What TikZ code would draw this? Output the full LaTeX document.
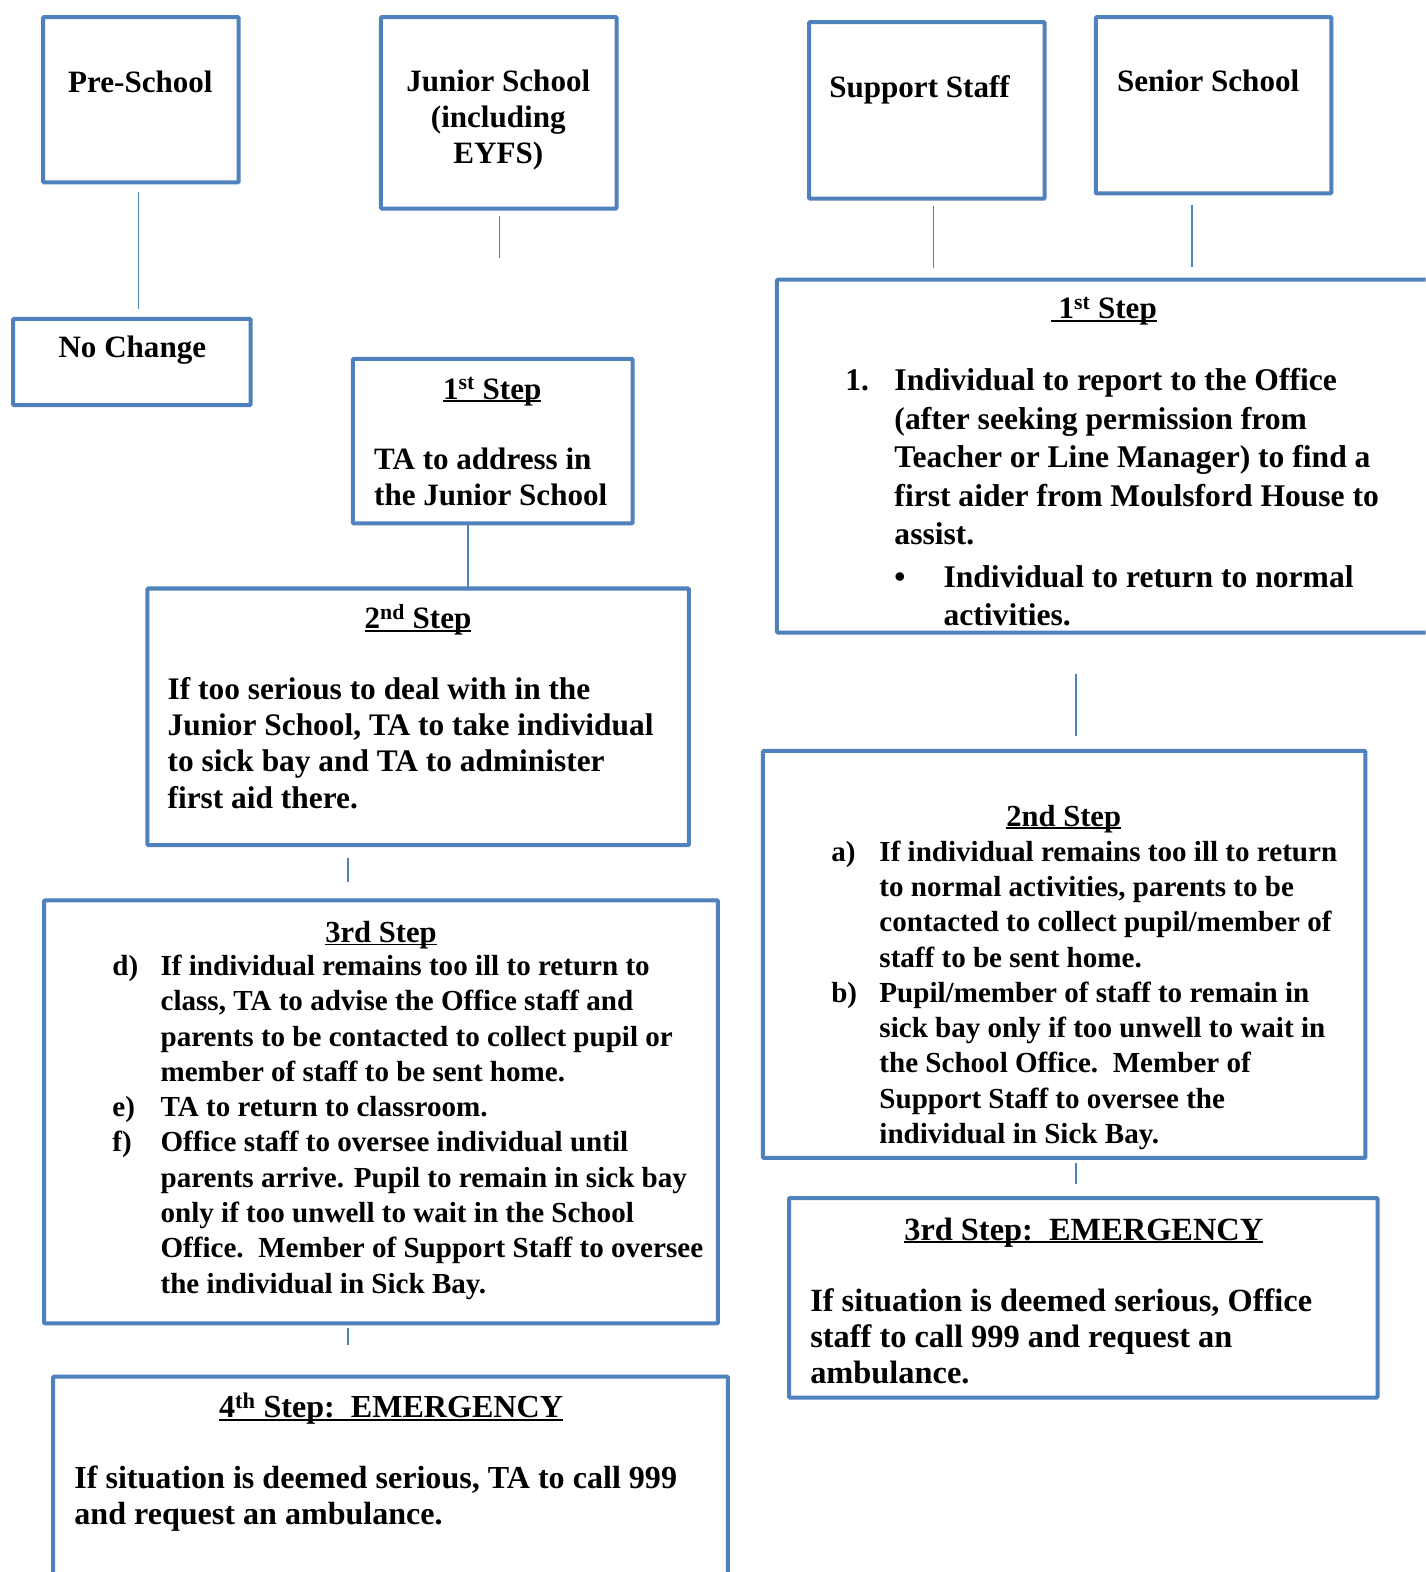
\documentclass[tikz,border=0pt]{standalone}
\usepackage{fontspec}
\setmainfont{Liberation Serif}
\definecolor{boxblue}{RGB}{79,129,189}
\newcommand\ulin[1]{\setbox0\hbox{#1}\rlap{\rule[-0.1em]{\wd0}{0.06em}}\box0}
\newcommand\rowsl[1]{\begin{tabular}[t]{@{}l@{}}#1\end{tabular}}
\newcommand\rowsc[1]{\begin{tabular}[t]{@{}c@{}}#1\end{tabular}}
\newcommand\rowsll[1]{\begin{tabular}[t]{@{}l@{}l@{}}#1\end{tabular}}
\newcommand\lab[2]{\makebox[#1][l]{#2}}
\begin{document}
\begin{tikzpicture}[x=1pt,y=-1pt,
  box/.style={draw=boxblue, line width=4pt, rounded corners=1pt, inner sep=0pt, outer sep=0pt, anchor=north west},
  conn/.style={draw=boxblue, line width=1.5pt},
  txt/.style={inner sep=0pt, anchor=base west},
  head/.style={inner sep=0pt, anchor=base},
  fA/.style={font=\bfseries\fontsize{31}{36}\selectfont},
  fE/.style={font=\bfseries\fontsize{31.3}{36}\selectfont},
  fB/.style={font=\bfseries\fontsize{29}{35.2}\selectfont},
  fC/.style={font=\bfseries\fontsize{31.5}{38.3}\selectfont},
  fD/.style={font=\bfseries\fontsize{32}{35.5}\selectfont},
  fF/.style={font=\bfseries\fontsize{32.3}{36}\selectfont},
  fH/.style={font=\bfseries\fontsize{30.5}{36}\selectfont},
]
\useasboundingbox (0,0) rectangle (1422,1568);
\fill[white] (0,0) rectangle (1422,1568);
\clip (0,0) rectangle (1422,1568);

% ---------- texts ----------
\node[head, fA] (tpre) at (140,92) {Pre-School};
\node[head, fA] (tjun) at (497,91) {\rowsc{Junior School\\(including\\EYFS)}};
\node[txt, fA] (tsup) at (827,97) {Support Staff};
\node[txt, fA] (tsen) at (1114,91) {Senior School};
\node[head, fA] (tnoch) at (132,357) {No Change};

\node[head, fA] (hjs1) at (491,398) {\ulin{1\textsuperscript{st} Step}};
\node[txt, fA] (tjs1) at (373,468) {\rowsl{TA to address in\\the Junior School}};

\node[head, fA] (hjs2) at (417,627) {\ulin{2\textsuperscript{nd} Step}};
\node[txt, fE] (tjs2) at (167,698) {\rowsl{If too serious to deal with in the\\Junior School, TA to take individual\\to sick bay and TA to administer\\first aid there.}};

\node[head, fH] (hjs3) at (380,940) {\ulin{3rd Step}};
\node[txt, fB] (tjs3) at (112,973) {\rowsll{%
\lab{48pt}{d)} & If individual remains too ill to return to\\
 & class, TA to advise the Office staff and\\
 & parents to be contacted to collect pupil or\\
 & member of staff to be sent home.\\
\lab{48pt}{e)} & TA to return to classroom.\\
\lab{48pt}{f)} & Office staff to oversee individual until\\
 & parents arrive. Pupil to remain in sick bay\\
 & only if too unwell to wait in the School\\
 & Office.\ \ Member of Support Staff to oversee\\
 & the individual in Sick Bay.}};

\node[head, fD] (hjs4) at (390,1414) {\ulin{4\textsuperscript{th} Step:\ \ EMERGENCY}};
\node[txt, fD] (tjs4) at (74,1485) {\rowsl{If situation is deemed serious, TA to call 999\\and request an ambulance.}};

\node[head, fA] (hss1) at (1101,318) {\ulin{\ 1\textsuperscript{st} Step}};
\node[txt, fC] (tss1) at (843,390) {\rowsll{%
\lab{49pt}{1.} & Individual to report to the Office\\
 & (after seeking permission from\\
 & Teacher or Line Manager) to find a\\
 & first aider from Moulsford House to\\
 & assist.}};
\node[txt, fC] (tss1b) at (892,586) {\rowsll{%
\lab{49pt}{\textbullet} & Individual to return to normal\\
 & activities.}};

\node[head, fH] (hss2) at (1061,824) {\ulin{2nd Step}};
\node[txt, fB] (tss2) at (829,859) {\rowsll{%
\lab{48pt}{a)} & If individual remains too ill to return\\
 & to normal activities, parents to be\\
 & contacted to collect pupil/member of\\
 & staff to be sent home.\\
\lab{48pt}{b)} & Pupil/member of staff to remain in\\
 & sick bay only if too unwell to wait in\\
 & the School Office.\ \ Member of\\
 & Support Staff to oversee the\\
 & individual in Sick Bay.}};

\node[head, fF] (hss3) at (1081,1237) {\ulin{3rd Step:\ \ EMERGENCY}};
\node[txt, fF] (tss3) at (808,1308) {\rowsl{If situation is deemed serious, Office\\staff to call 999 and request an\\ambulance.}};

% ---------- boxes ----------
\node[box, minimum width=195pt, minimum height=165pt] (pre) at (43,17) {};
\node[box, minimum width=235pt, minimum height=191pt] (jun) at (380,17) {};
\node[box, minimum width=235pt, minimum height=176pt] (sup) at (807,22) {};
\node[box, minimum width=235pt, minimum height=176pt] (sen) at (1093,17) {};
\node[box, minimum width=237pt, minimum height=86pt] (noch) at (13,318) {};
\node[box, minimum width=279pt, minimum height=164pt] (js1) at (352,358) {};
\node[box, minimum width=540pt, minimum height=256pt] (js2) at (147,587) {};
\node[box, minimum width=672pt, minimum height=422pt] (js3) at (44,898) {};
\node[box, minimum width=673pt, minimum height=240pt] (js4) at (53,1373) {};
\node[box, minimum width=675pt, minimum height=352pt] (ss1) at (775,279) {};
\node[box, minimum width=601pt, minimum height=406pt] (ss2) at (761,749) {};
\node[box, minimum width=587pt, minimum height=199pt] (ss3) at (787,1195) {};

% ---------- connectors ----------
\coordinate (c1) at ([xshift=-2.5pt]pre.south);
\draw[conn, shorten <=10pt, shorten >=10pt] (c1) -- (c1 |- noch.north);
\coordinate (c2) at ([xshift=0.5pt]jun.south);
\draw[conn, shorten <=7pt, shorten >=101pt] (c2) -- (c2 |- js1.north);
\coordinate (c3) at ([xshift=-24.5pt]js1.south);
\draw[conn] (c3) -- (c3 |- js2.north);
\coordinate (c4) at ([xshift=-70pt]js2.south);
\draw[conn, shorten <=13pt, shorten >=18pt] (c4) -- (c4 |- js3.north);
\coordinate (c5) at ([xshift=-33pt]js3.south);
\draw[conn, shorten <=5pt, shorten >=31pt] (c5) -- (c5 |- js4.north);
\coordinate (c6) at ([xshift=6.5pt]sup.south);
\draw[conn, shorten <=7pt, shorten >=12pt] (c6) -- (c6 |- ss1.north);
\coordinate (c7) at ([xshift=-21.5pt]sen.south);
\draw[conn, shorten <=11pt, shorten >=13pt] (c7) -- (c7 |- ss1.north);
\coordinate (c8) at ([xshift=-39.5pt]ss1.south);
\draw[conn, shorten <=41pt, shorten >=15pt] (c8) -- (c8 |- ss2.north);
\coordinate (c9) at ([xshift=11.5pt]ss2.south);
\draw[conn, shorten <=5pt, shorten >=14pt] (c9) -- (c9 |- ss3.north);
\end{tikzpicture}
\end{document}
